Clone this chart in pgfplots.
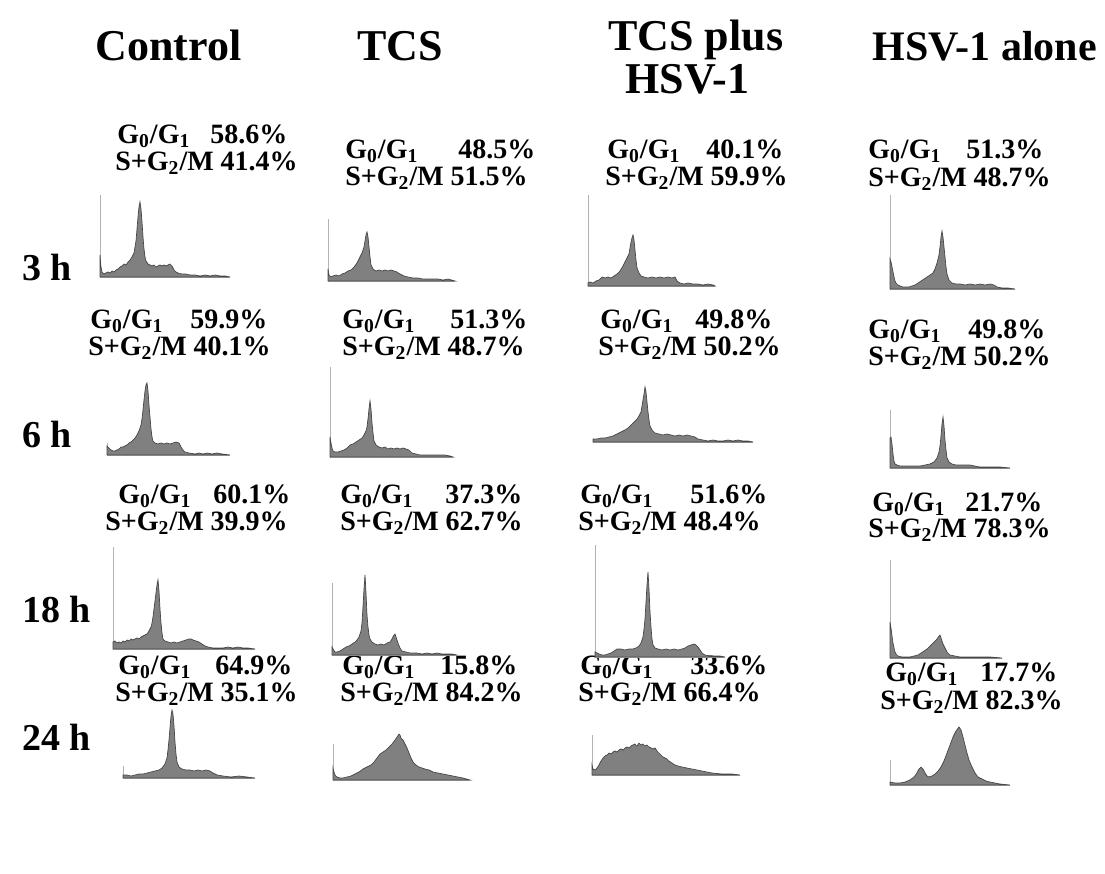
\documentclass[border=0pt]{standalone}
\usepackage{fontspec}
\setmainfont{Liberation Serif}
\usepackage{pgfplots}
\pgfplotsset{compat=1.18}
\pgfplotsset{hist/.style={scale only axis, axis lines=left, axis line style={-, draw=gray!60, line width=0.5pt},
  xtick=\empty, ytick=\empty, clip=false, xmin=0, ymin=0, anchor=south west},
  histfill/.style={fill=black!50, draw=black!72, line width=0.35pt}}
\newcommand\statfont{\fontsize{14}{16}\selectfont\bfseries}
\newcommand\panel[5]{%
\pgfmathsetlengthmacro\pw{#3*0.5pt}%
\pgfmathsetlengthmacro\ph{#4*0.5pt}%
\begin{axis}[hist, at={({#1*0.5pt},{-#2*0.5pt})}, width=\pw, height=\ph, xmax=#3, ymax=#4]
\addplot[histfill] coordinates {#5} \closedcycle;
\end{axis}}
\newcommand\lineone[4]{\node[anchor=base west,inner sep=0pt,font=\statfont] at ({#1*0.5pt},{-#3*0.5pt}) {G\textsubscript{0}/G\textsubscript{1}};
\node[anchor=base west,inner sep=0pt,font=\statfont] at ({#2*0.5pt},{-#3*0.5pt}) {#4\%};}
\newcommand\linetwo[3]{\node[anchor=base west,inner sep=0pt,font=\statfont] at ({#1*0.5pt},{-#2*0.5pt}) {S+G\textsubscript{2}/M #3\%};}
\newcommand\txt[4]{\node[anchor=base west,inner sep=0pt,font={\fontsize{#3}{#3}\selectfont\bfseries}] at ({#1*0.5pt},{-#2*0.5pt}) {#4};}
\begin{document}
\begin{tikzpicture}
\useasboundingbox (0,0) rectangle (552.5pt,-437pt);
% titles
\txt{95}{60}{22}{Control}
\txt{357}{60}{22}{TCS}
\txt{608}{50}{22}{TCS plus}
\txt{625}{93}{22}{HSV-1}
\txt{872}{60}{21}{HSV-1 alone}
% row labels
\txt{22}{280}{19}{3 h}
\txt{22}{447}{19}{6 h}
\txt{22}{622}{19}{18 h}
\txt{22}{750}{19}{24 h}
% stats row 1
\lineone{117}{210}{143}{58.6}\linetwo{115}{170}{41.4}
\lineone{345}{458}{158}{48.5}\linetwo{345}{185}{51.5}
\lineone{607}{706}{158}{40.1}\linetwo{605}{185}{59.9}
\lineone{868}{966}{158}{51.3}\linetwo{868}{186}{48.7}
% row 2
\lineone{90}{190}{328}{59.9}\linetwo{88}{355}{40.1}
\lineone{342}{450}{328}{51.3}\linetwo{342}{355}{48.7}
\lineone{600}{695}{328}{49.8}\linetwo{598}{355}{50.2}
\lineone{868}{968}{338}{49.8}\linetwo{868}{365}{50.2}
% row 3
\lineone{118}{213}{503}{60.1}\linetwo{105}{530}{39.9}
\lineone{340}{445}{503}{37.3}\linetwo{340}{530}{62.7}
\lineone{580}{690}{503}{51.6}\linetwo{578}{530}{48.4}
\lineone{872}{965}{511}{21.7}\linetwo{868}{537}{78.3}
% row 4
\lineone{118}{215}{674}{64.9}\linetwo{115}{701}{35.1}
\lineone{342}{440}{674}{15.8}\linetwo{340}{701}{84.2}
\lineone{580}{690}{674}{33.6}\linetwo{578}{701}{66.4}
\lineone{885}{980}{681}{17.7}\linetwo{880}{709}{82.3}
% histograms row 1
\panel{100}{277}{130}{82}{(0,0)(0,22)(1,10)(2,5)(4,3)(6,4)(8,5)(10,4)(12,6)(14,5)(16,7)(18,8)(20,10)(22,11)(24,13)(26,12)(28,15)(30,17)(32,20)(34,24)(35,30)(36,36)(37,48)(38,60)(39,70)(40,75)(41,68)(42,55)(43,40)(44,28)(45,20)(46,16)(48,13)(50,12)(52,11)(54,12)(56,10)(58,11)(60,12)(62,11)(64,12)(66,11)(68,12)(70,13)(72,11)(74,7)(76,5)(78,4)(82,3)(86,3)(90,2)(95,2)(100,1)(105,2)(110,1)(115,2)(120,1)(125,1)(130,0)}
\panel{328}{281}{127}{62}{(0,0)(0,12)(1,6)(3,4)(5,5)(8,6)(11,5)(14,7)(17,8)(20,10)(23,11)(26,14)(29,18)(32,24)(34,28)(36,34)(37,40)(38,46)(39,49)(40,44)(41,34)(42,24)(43,16)(45,12)(48,10)(51,11)(54,10)(57,11)(60,10)(63,11)(66,10)(69,9)(72,7)(76,5)(80,4)(85,3)(90,3)(95,2)(100,2)(105,2)(110,2)(115,1)(120,2)(127,0)}
\panel{588}{286}{127}{91}{(0,0)(0,3)(2,4)(5,3)(8,5)(11,6)(14,9)(17,8)(20,9)(23,8)(26,10)(29,12)(32,15)(35,20)(37,24)(39,28)(41,32)(42,38)(43,44)(44,48)(45,51)(46,46)(47,36)(48,26)(49,18)(51,13)(53,10)(56,9)(60,8)(64,9)(68,8)(72,9)(76,8)(80,9)(84,8)(87,9)(89,5)(92,3)(96,2)(100,3)(105,2)(110,2)(115,1)(120,2)(125,1)(127,0)}
\panel{890}{289}{125}{94}{(0,0)(0,30)(1,27)(2,22)(3,17)(4,12)(5,8)(6,6)(8,4)(10,3)(13,2)(16,2)(19,2)(22,3)(25,4)(28,6)(31,8)(34,10)(37,12)(40,14)(43,16)(45,20)(47,26)(49,34)(50,42)(51,52)(52,58)(53,52)(54,42)(55,32)(56,22)(57,15)(59,9)(62,6)(66,5)(70,5)(75,4)(80,5)(85,4)(90,5)(95,4)(100,5)(104,4)(107,2)(112,1)(118,1)(125,0)}
% row 2
\panel{107}{455}{123}{12}{(0,0)(0,9)(2,7)(4,5)(6,4)(8,4)(10,5)(12,6)(14,8)(16,8)(18,9)(20,10)(22,12)(24,13)(26,15)(28,17)(30,20)(32,24)(34,30)(35,36)(36,45)(37,55)(38,64)(39,70)(40,72)(41,64)(42,50)(43,38)(44,26)(45,18)(46,14)(48,12)(51,11)(54,12)(57,11)(60,12)(63,11)(66,12)(69,13)(72,12)(74,8)(76,5)(78,3)(82,2)(88,1)(92,2)(96,1)(100,2)(105,1)(110,2)(115,1)(123,0)}
\panel{330}{457}{123}{90}{(0,0)(0,20)(1,14)(2,9)(3,6)(5,5)(8,5)(11,6)(14,7)(17,9)(20,12)(23,13)(26,15)(29,17)(32,19)(34,22)(36,26)(37,30)(38,38)(39,48)(40,56)(41,48)(42,34)(43,24)(44,16)(46,12)(49,10)(52,9)(55,10)(58,8)(61,9)(64,8)(67,9)(70,8)(73,9)(76,8)(79,7)(82,4)(86,3)(90,2)(95,2)(100,2)(105,2)(110,2)(115,2)(120,1)(123,0)}
\panel{593}{442}{160}{3}{(0,0)(0,3)(4,3)(8,4)(12,4)(16,5)(20,6)(24,8)(28,10)(32,12)(35,14)(38,17)(41,20)(44,23)(46,26)(48,30)(49,36)(50,42)(51,48)(52,55)(53,50)(54,40)(55,30)(56,22)(57,16)(59,12)(62,9)(66,8)(70,7)(74,8)(78,7)(82,6)(86,7)(90,6)(94,7)(98,6)(102,5)(105,3)(110,2)(115,1)(120,2)(125,1)(130,1)(135,2)(140,1)(145,2)(150,1)(155,1)(160,0)}
\panel{890}{468}{120}{58}{(0,0)(0,30)(1,31)(2,24)(3,14)(4,7)(5,4)(7,3)(10,2)(15,2)(20,2)(25,2)(30,2)(35,3)(40,4)(44,6)(47,10)(49,16)(50,22)(51,32)(52,44)(53,51)(54,42)(55,28)(56,18)(57,10)(59,6)(62,4)(66,3)(70,3)(75,3)(80,3)(85,2)(90,1)(100,1)(110,1)(120,0)}
% row 3
\panel{113}{649}{142}{102}{(0,0)(0,7)(2,8)(4,6)(6,7)(8,6)(10,8)(12,7)(14,9)(16,8)(18,10)(20,9)(22,10)(24,11)(26,10)(28,12)(30,13)(32,14)(34,15)(36,18)(38,22)(39,26)(40,32)(41,40)(42,48)(43,56)(44,64)(45,69)(46,58)(47,40)(48,26)(49,16)(50,10)(52,8)(55,7)(58,6)(61,7)(64,6)(67,7)(70,8)(73,9)(76,10)(78,10)(80,9)(83,8)(86,7)(89,5)(92,3)(95,2)(100,1)(105,1)(110,1)(115,2)(120,1)(125,2)(130,1)(135,1)(142,0)}
\panel{332}{655}{125}{72}{(0,0)(0,8)(1,6)(3,3)(5,3)(8,4)(11,6)(14,8)(17,9)(20,11)(23,13)(25,15)(27,18)(29,24)(30,32)(31,48)(32,66)(33,80)(34,62)(35,40)(36,28)(37,20)(38,16)(40,13)(43,11)(46,10)(49,11)(52,10)(55,12)(58,13)(60,16)(62,20)(63,21)(64,18)(66,12)(68,7)(70,4)(74,3)(78,2)(85,2)(90,1)(95,2)(100,1)(105,2)(110,1)(115,1)(120,1)(125,0)}
\panel{595}{657}{130}{112}{(0,0)(0,5)(2,4)(4,3)(7,2)(10,2)(13,3)(16,4)(19,6)(22,8)(26,8)(30,7)(34,8)(38,8)(41,9)(44,11)(46,14)(48,20)(49,28)(50,38)(51,55)(52,72)(53,85)(54,68)(55,45)(56,30)(57,18)(58,12)(60,9)(63,8)(67,7)(71,8)(75,7)(79,8)(83,7)(87,8)(90,9)(93,11)(96,12)(99,13)(101,12)(103,10)(105,7)(107,4)(110,2)(115,1)(120,1)(125,1)(130,0)}
\panel{890}{658}{112}{98}{(0,0)(0,36)(1,30)(2,22)(3,15)(4,10)(5,6)(6,4)(8,2)(12,1)(16,1)(20,1)(24,2)(28,3)(31,5)(34,7)(37,9)(39,11)(41,13)(43,15)(45,17)(47,19)(49,22)(50,23)(51,20)(53,14)(55,10)(57,6)(60,3)(65,2)(70,1)(80,1)(90,1)(100,1)(112,0)}
% row 4
\panel{123}{778}{132}{12}{(0,0)(0,3)(4,3)(8,2)(12,3)(16,4)(20,4)(24,5)(28,6)(32,7)(36,8)(39,10)(42,14)(44,20)(45,28)(46,38)(47,50)(48,62)(49,68)(50,64)(51,52)(52,36)(53,24)(54,16)(56,11)(59,9)(63,8)(67,8)(71,7)(75,8)(79,7)(83,8)(87,7)(90,5)(94,3)(100,2)(108,1)(116,2)(124,1)(132,0)}
\panel{333}{780}{137}{36}{(0,0)(0,12)(1,8)(2,5)(4,3)(7,2)(10,2)(14,3)(18,4)(22,6)(26,8)(30,11)(34,13)(38,15)(41,18)(44,22)(47,26)(50,28)(53,30)(56,33)(59,36)(62,40)(64,43)(66,46)(67,45)(68,42)(70,40)(72,36)(74,32)(76,27)(78,22)(80,18)(83,15)(86,13)(89,12)(92,11)(96,10)(100,8)(105,7)(110,6)(115,5)(120,4)(125,3)(130,2)(137,0)}
\panel{592}{775}{148}{40}{(0,0)(0,10)(1,6)(3,5)(5,7)(7,10)(9,14)(11,17)(13,19)(15,20)(17,22)(19,21)(21,23)(23,24)(25,23)(27,25)(29,26)(31,25)(33,27)(35,28)(37,27)(39,29)(41,30)(43,31)(45,29)(47,32)(49,30)(51,31)(53,29)(55,30)(57,28)(59,27)(61,26)(63,27)(65,24)(67,22)(69,20)(71,18)(73,17)(75,16)(77,14)(80,12)(83,10)(86,9)(90,8)(95,7)(100,6)(105,5)(110,4)(115,3)(120,2)(130,1)(140,1)(148,0)}
\panel{890}{785}{120}{25}{(0,0)(0,3)(5,2)(10,2)(15,3)(20,5)(24,8)(27,12)(29,16)(31,18)(33,16)(35,12)(37,9)(39,8)(42,9)(45,11)(48,14)(51,18)(54,24)(57,32)(60,40)(63,48)(66,54)(69,58)(71,55)(73,48)(75,40)(77,32)(79,25)(82,18)(85,12)(88,8)(92,6)(96,4)(100,3)(105,2)(110,1)(120,0)}
\end{tikzpicture}
\end{document}
